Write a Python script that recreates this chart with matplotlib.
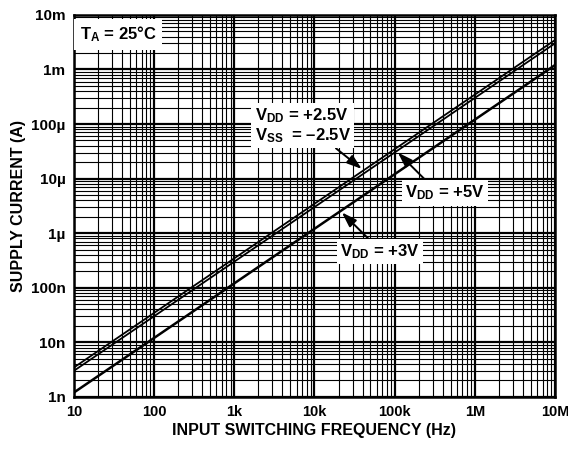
import numpy as np
import matplotlib
matplotlib.use("Agg")
import matplotlib.pyplot as plt
from matplotlib.ticker import FixedLocator, NullFormatter

plt.rcParams['font.family'] = ['Liberation Sans', 'DejaVu Sans']
plt.rcParams['font.weight'] = 'bold'
plt.rcParams['mathtext.fontset'] = 'custom'
plt.rcParams['mathtext.rm'] = 'Liberation Sans:bold'
plt.rcParams['mathtext.it'] = 'Liberation Sans:bold'
plt.rcParams['mathtext.bf'] = 'Liberation Sans:bold'
plt.rcParams['mathtext.default'] = 'rm'

# data (endpoints of straight log-log lines)
freq = [10, 1e7]
i_vdd_25 = [3.45e-9, 3.45e-3]
i_vdd_5 = [3.0e-9, 3.0e-3]
i_vdd_3 = [1.2e-9, 1.2e-3]

x_ticks = [10, 100, 1e3, 1e4, 1e5, 1e6, 1e7]
x_labels = ["10", "100", "1k", "10k", "100k", "1M", "10M"]
y_ticks = [1e-9, 1e-8, 1e-7, 1e-6, 1e-5, 1e-4, 1e-3, 1e-2]
y_labels = ["1n", "10n", "100n", "1\u00b5", "10\u00b5", "100\u00b5", "1m", "10m"]

fig = plt.figure(figsize=(5.68, 4.5), dpi=100)
ax = fig.add_axes([0.130, 0.118, 0.847, 0.849])
ax.set_xscale('log')
ax.set_yscale('log')
ax.set_xlim(10, 1e7)
ax.set_ylim(1e-9, 1e-2)

ax.xaxis.set_major_locator(FixedLocator(x_ticks))
ax.yaxis.set_major_locator(FixedLocator(y_ticks))
ax.set_xticklabels(x_labels)
ax.set_yticklabels(y_labels)
ax.xaxis.set_minor_formatter(NullFormatter())
ax.yaxis.set_minor_formatter(NullFormatter())
ax.tick_params(which='both', length=0, pad=6)
ax.tick_params(axis='x', labelsize=10.5)
ax.tick_params(axis='y', labelsize=11)

ax.grid(which='major', color='black', lw=1.6)
ax.grid(which='minor', color='black', lw=0.8)
for s in ax.spines.values():
    s.set_linewidth(1.8)

ax.plot(freq, i_vdd_25, color='black', lw=1.3, zorder=3)
ax.plot(freq, i_vdd_5, color='black', lw=1.3, zorder=3)
ax.plot(freq, i_vdd_3, color='black', lw=1.8, zorder=3)

ax.set_xlabel("INPUT SWITCHING FREQUENCY (Hz)", fontsize=11.5, fontweight='bold', labelpad=3)
ax.set_ylabel("SUPPLY CURRENT (A)", fontsize=11.5, fontweight='bold', labelpad=3)

box = dict(facecolor='white', edgecolor='none', pad=2.5)
ax.text(0.012, 0.975, "T$_A$ = 25\u00b0C", transform=ax.transAxes, fontsize=12,
        va='top', ha='left', bbox=dict(facecolor='white', edgecolor='none', pad=4))

def arrow(rx, ry):
    return dict(arrowstyle='-|>,head_length=0.45,head_width=0.15', color='black', lw=1.4,
                mutation_scale=20, relpos=(rx, ry), shrinkA=0, shrinkB=0)

ax.annotate("V$_{DD}$ = +2.5V\nV$_{SS}$  = \u20132.5V", xy=(3.9e4, 1.5e-5), xytext=(1.8e3, 9.3e-5),
            fontsize=12, ha='left', va='center', linespacing=1.05, bbox=box,
            arrowprops=arrow(0.8, 0))
ax.annotate("V$_{DD}$ = +5V", xy=(1.1e5, 3.0e-5), xytext=(1.35e5, 5.5e-6),
            fontsize=12, ha='left', va='center', bbox=box, arrowprops=arrow(0.3, 1))
ax.annotate("V$_{DD}$ = +3V", xy=(2.2e4, 2.4e-6), xytext=(2.1e4, 4.6e-7),
            fontsize=12, ha='left', va='center', bbox=box, arrowprops=arrow(0.4, 1))

fig.savefig("out.png", dpi=100)
